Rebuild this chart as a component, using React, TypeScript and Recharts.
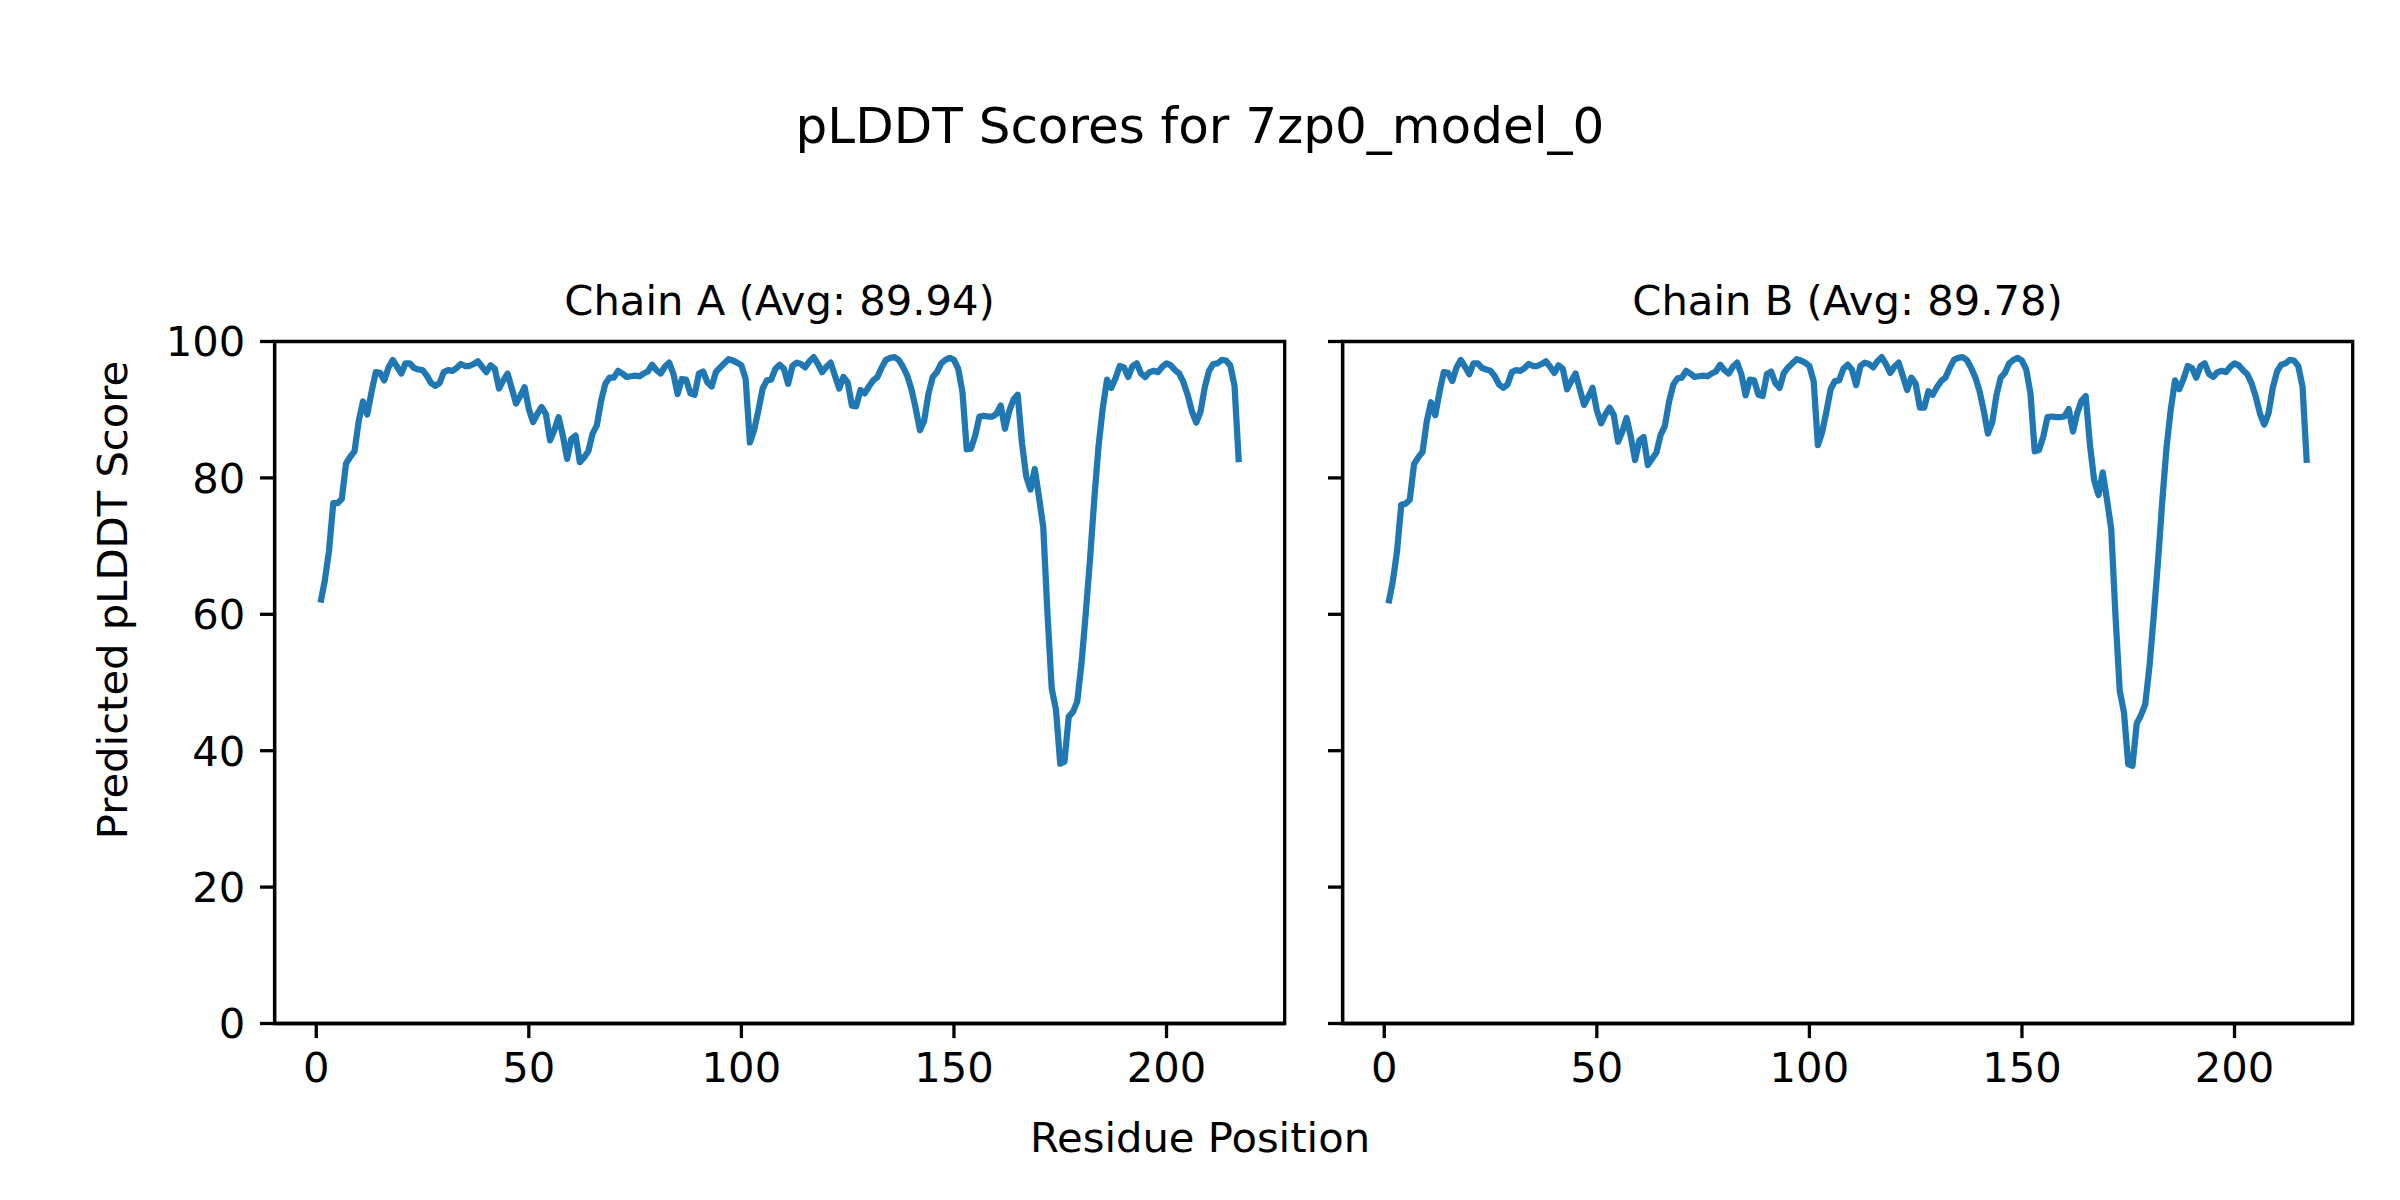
import { LineChart, Line, XAxis, YAxis, ReferenceArea } from 'recharts'

// per-residue pLDDT, residue 1..217
const chainA: number[] = [
  61.7, 64.9, 69.3, 76.3, 76.3, 76.9, 82.1, 83.1, 83.9, 88.4,
  91.2, 89.3, 92.6, 95.5, 95.4, 94.3, 96.2, 97.3, 96.3, 95.3,
  96.8, 96.8, 96.1, 95.9, 95.8, 95.0, 93.9, 93.5, 93.9, 95.5,
  95.8, 95.7, 96.1, 96.7, 96.4, 96.4, 96.7, 97.1, 96.3, 95.5,
  96.5, 96.0, 93.1, 94.3, 95.3, 93.1, 90.9, 92.0, 93.3, 90.1,
  88.2, 89.4, 90.4, 89.4, 85.5, 87.0, 88.9, 86.2, 82.8, 85.7,
  86.2, 82.3, 83.0, 83.9, 86.5, 87.7, 91.3, 93.8, 94.7, 94.7,
  95.7, 95.3, 94.8, 94.9, 95.0, 94.9, 95.3, 95.6, 96.6, 95.8,
  95.3, 96.3, 96.9, 95.3, 92.3, 94.5, 94.4, 92.4, 92.2, 95.3,
  95.6, 94.0, 93.4, 95.5, 96.2, 96.8, 97.4, 97.2, 96.9, 96.5,
  94.5, 85.2, 87.0, 89.9, 93.1, 94.3, 94.4, 96.0, 96.6, 96.0,
  93.8, 96.4, 96.9, 96.7, 96.2, 97.1, 97.7, 96.7, 95.5, 96.3,
  96.9, 95.0, 93.1, 94.8, 94.0, 90.6, 90.5, 92.9, 92.4, 93.4,
  94.3, 94.8, 96.2, 97.3, 97.6, 97.7, 97.3, 96.3, 95.0, 93.0,
  90.2, 87.0, 88.4, 92.3, 94.8, 95.5, 96.8, 97.3, 97.6, 97.3,
  96.0, 92.6, 84.2, 84.3, 86.2, 89.0, 89.1, 89.0, 89.0, 89.4,
  90.6, 87.2, 89.8, 91.5, 92.2, 85.1, 80.2, 78.3, 81.3, 77.2,
  72.8, 60.1, 49.1, 46.0, 38.1, 38.4, 45.0, 45.7, 47.2, 52.8,
  60.1, 68.0, 76.8, 84.6, 90.2, 94.4, 93.2, 94.6, 96.4, 96.2,
  94.8, 96.4, 96.8, 95.3, 94.8, 95.5, 95.7, 95.5, 96.3, 96.8,
  96.5, 95.8, 95.3, 94.0, 92.1, 89.7, 88.1, 89.7, 93.3, 95.7,
  96.7, 96.8, 97.3, 97.2, 96.5, 93.5, 82.3,
]

const chainB: number[] = [
  61.6, 64.8, 69.2, 76.1, 76.2, 76.8, 82.0, 83.0, 83.8, 88.3,
  91.1, 89.2, 92.6, 95.5, 95.4, 94.2, 96.2, 97.3, 96.3, 95.2,
  96.8, 96.8, 96.1, 95.9, 95.7, 94.9, 93.7, 93.2, 93.7, 95.5,
  95.8, 95.7, 96.1, 96.7, 96.4, 96.4, 96.7, 97.1, 96.3, 95.4,
  96.5, 96.0, 93.0, 94.2, 95.3, 93.0, 90.7, 91.9, 93.2, 89.9,
  88.0, 89.3, 90.3, 89.2, 85.3, 86.8, 88.8, 86.0, 82.6, 85.5,
  86.0, 81.9, 82.8, 83.7, 86.3, 87.6, 91.2, 93.7, 94.6, 94.7,
  95.7, 95.3, 94.8, 94.9, 95.0, 94.9, 95.3, 95.6, 96.6, 95.8,
  95.3, 96.3, 96.9, 95.2, 92.1, 94.4, 94.3, 92.2, 92.0, 95.2,
  95.6, 93.9, 93.2, 95.4, 96.2, 96.8, 97.4, 97.2, 96.9, 96.4,
  94.2, 84.8, 86.7, 89.7, 93.0, 94.2, 94.3, 96.0, 96.6, 95.9,
  93.6, 96.4, 96.9, 96.7, 96.2, 97.1, 97.7, 96.7, 95.4, 96.3,
  96.9, 94.9, 92.9, 94.7, 93.8, 90.3, 90.3, 92.7, 92.2, 93.3,
  94.2, 94.7, 96.1, 97.3, 97.6, 97.7, 97.3, 96.2, 94.8, 92.8,
  89.9, 86.5, 88.1, 92.1, 94.7, 95.4, 96.8, 97.3, 97.6, 97.2,
  95.9, 92.4, 83.9, 84.1, 86.0, 88.9, 89.0, 88.9, 88.9, 89.0,
  90.1, 86.8, 89.5, 91.3, 92.0, 84.8, 79.6, 77.5, 80.8, 76.8,
  72.5, 59.8, 48.8, 45.6, 38.0, 37.8, 44.0, 45.2, 46.8, 52.4,
  59.8, 67.7, 76.5, 84.4, 90.0, 94.3, 93.0, 94.5, 96.4, 96.1,
  94.7, 96.4, 96.8, 95.2, 94.8, 95.5, 95.7, 95.5, 96.3, 96.8,
  96.5, 95.8, 95.2, 93.9, 91.9, 89.4, 87.8, 89.5, 93.2, 95.6,
  96.6, 96.8, 97.3, 97.2, 96.4, 93.4, 82.2,
]

const chains = [
  { name: 'Chain A', avg: '89.94', scores: chainA },
  { name: 'Chain B', avg: '89.78', scores: chainB },
]

const xTicks = [0, 50, 100, 150, 200]
const yTicks = [0, 20, 40, 60, 80, 100]
const xDomain: [number, number] = [-9.8, 227.8]
const yDomain: [number, number] = [0, 100]

const FONT = 'DejaVu Sans'
const BLUE = '#1f77b4'
const tickFont = { fill: '#000', fontSize: 41.7, fontFamily: FONT }

function Panel({ title, scores, left, showY }: { title: string; scores: number[]; left: number; showY: boolean }) {
  const data = scores.map((s, i) => ({ pos: i + 1, score: s }))
  return (
    <div style={{ position: 'absolute', left, top: 0 }}>
      <LineChart width={1300} height={1100} data={data} margin={{ top: 341.5, right: 15.3, bottom: 6.5, left: 214.6 }}>
        <XAxis
          dataKey="pos"
          type="number"
          domain={xDomain}
          ticks={xTicks}
          height={70}
          tick={tickFont}
          tickSize={14.6}
          tickMargin={14.6}
          tickLine={{ stroke: '#000', strokeWidth: 3.3 }}
          axisLine={{ stroke: '#000', strokeWidth: 3.3 }}
        />
        <YAxis
          type="number"
          domain={yDomain}
          ticks={yTicks}
          width={60}
          tick={tickFont}
          tickFormatter={v => (showY ? String(v) : '')}
          tickSize={14.6}
          tickMargin={14.6}
          tickLine={{ stroke: '#000', strokeWidth: 3.3 }}
          axisLine={{ stroke: '#000', strokeWidth: 3.3 }}
        />
        <ReferenceArea x1={xDomain[0]} x2={xDomain[1]} y1={yDomain[0]} y2={yDomain[1]} fill="none" stroke="#000" strokeWidth={3.3} />
        <Line
          type="linear"
          dataKey="score"
          stroke={BLUE}
          strokeWidth={6.25}
          strokeLinejoin="round"
          dot={false}
          isAnimationActive={false}
        />
      </LineChart>
      <svg width={1300} height={400} style={{ position: 'absolute', left: 0, top: 0, pointerEvents: 'none' }}>
        <text x={779.6} y={315} textAnchor="middle" fontFamily={FONT} fontSize={41.7} fill="#000">
          {title}
        </text>
      </svg>
    </div>
  )
}

export default function App() {
  return (
    <div style={{ position: 'absolute', left: 0, top: 0, width: 2400, height: 1200, background: '#fff', overflow: 'hidden' }}>
      {chains.map((c, i) => (
        <Panel key={c.name} title={`${c.name} (Avg: ${c.avg})`} scores={c.scores} left={i * 1068.4} showY={i === 0} />
      ))}
      <svg width={2400} height={1200} style={{ position: 'absolute', left: 0, top: 0, pointerEvents: 'none' }}>
        <text x={1200} y={143} textAnchor="middle" fontFamily={FONT} fontSize={50} fill="#000">
          pLDDT Scores for 7zp0_model_0
        </text>
        <text x={1200} y={1151.5} textAnchor="middle" fontFamily={FONT} fontSize={41.7} fill="#000">
          Residue Position
        </text>
        <text x={126.5} y={600} textAnchor="middle" fontFamily={FONT} fontSize={41.7} fill="#000" transform="rotate(-90 126.5 600)">
          Predicted pLDDT Score
        </text>
      </svg>
    </div>
  )
}
